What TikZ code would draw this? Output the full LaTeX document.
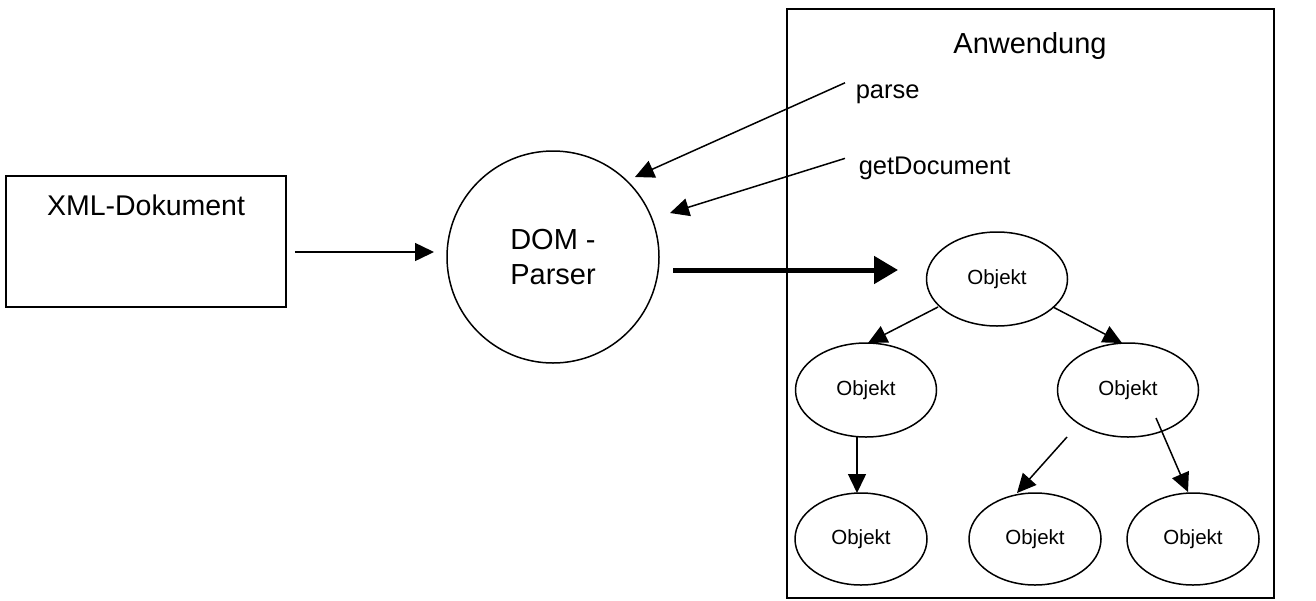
\documentclass[tikz,border=0pt]{standalone}
\usepackage{fontspec}
\setmainfont{Liberation Sans}
\usetikzlibrary{arrows.meta,shapes.geometric,calc}
\begin{document}
\begin{tikzpicture}[x=1pt,y=-1pt,
  line width=1.5pt,
  arr/.style={-{Triangle[length=19pt,width=18pt]}},
  bigarr/.style={line width=5pt,-{Triangle[length=24pt,width=27pt]}},
  obj/.style={draw,ellipse,inner sep=0pt,font=\fontsize{20.5}{24}\selectfont},
  objbig/.style={obj,minimum width=141pt,minimum height=94pt},
  objsmall/.style={obj,minimum width=132pt,minimum height=92pt},
  lbl/.style={inner sep=0pt,font=\fontsize{25.5}{30}\selectfont}
]
\useasboundingbox (0,0) rectangle (1316,600);

% XML document box
\node[draw,minimum width=280pt,minimum height=131pt,inner sep=0pt] (xml) at (146,241.5) {};
\node[inner sep=0pt,anchor=base,font=\fontsize{28.5}{34}\selectfont] (xmltxt) at (146,215) {XML-Dokument};

% DOM parser
\node[draw,circle,minimum size=212pt,inner sep=0pt,align=left,
      font=\fontsize{29}{35}\selectfont] (parser) at (553,257) {DOM -\\Parser};

% Application box
\node[draw,minimum width=487pt,minimum height=589pt,inner sep=0pt] (app) at (1030.5,303.5) {};
\node[inner sep=0pt,anchor=base,font=\fontsize{29}{34}\selectfont] (apptxt) at (1030,53) {Anwendung};

% method labels
\node[lbl,anchor=base west] (parse) at (855,98) {parse};
\node[lbl,anchor=base west] (getdoc) at (858,174) {getDocument};

% objects
\node[objbig] (o1) at (997,279) {Objekt};
\node[objbig] (o2) at (866,390) {Objekt};
\node[objbig] (o3) at (1128,390) {Objekt};
\node[objsmall] (o4) at (861,539) {Objekt};
\node[objsmall] (o5) at (1035,539) {Objekt};
\node[objsmall] (o6) at (1193,539) {Objekt};

% connectors
\draw[arr] ($(xml.east)+(8,10.5)$) -- ($(parser.center)+(-119,-5)$);
\draw[arr] ($(parse.west)+(-10,-11)$) -- ($(parser.center)+(82,-80)$);
\draw[arr] ($(getdoc.west)+(-13,-9.5)$) -- ($(parser.center)+(117,-44)$);
\draw[bigarr] ($(parser.center)+(120,13)$) -- ($(o1.center)+(-99,-9)$);
\draw[arr] ($(o1.center)+(-59,28)$) -- ($(o2.center)+(2,-47)$);
\draw[arr] ($(o1.center)+(56,28)$) -- ($(o3.center)+(-6,-47)$);
\draw[arr] ($(o2.center)+(-9,47)$) -- ($(o4.center)+(-4,-46)$);
\draw[arr] ($(o3.center)+(-61,47)$) -- ($(o5.center)+(-18,-46)$);
\draw[arr] ($(o3.center)+(28,28)$) -- ($(o6.center)+(-5,-47)$);
\end{tikzpicture}
\end{document}
